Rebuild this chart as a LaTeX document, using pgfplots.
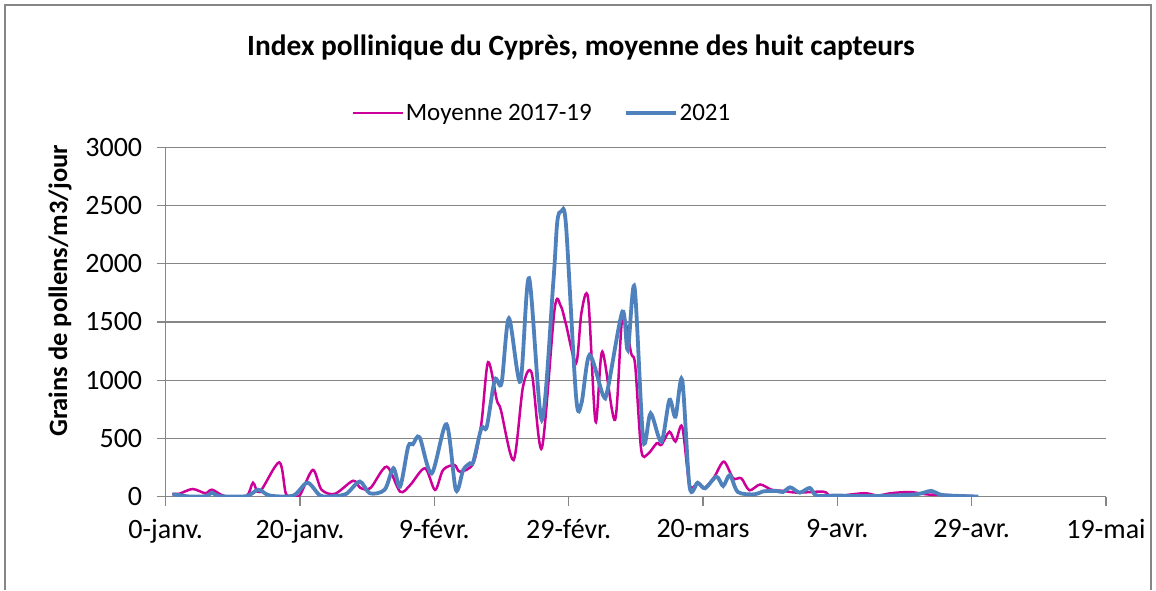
\documentclass[border=0pt]{standalone}
\usepackage{fontspec}
\setmainfont{Carlito}
\usepackage{pgfplots}
\pgfplotsset{compat=1.18}

\definecolor{gridgray}{RGB}{134,134,134}
\definecolor{moy}{RGB}{204,0,153}
\definecolor{y21}{RGB}{79,129,189}

\begin{document}
\begin{tikzpicture}[x=1pt,y=1pt]
\path (0,0) rectangle (1156,590);
% cadre du graphique
\draw[gridgray, line width=1.3pt] (5,0) -- (5,585) -- (1151,585) -- (1151,0);
\node[font=\bfseries\fontsize{29.4}{35}\selectfont] at (581,542)
  {Index pollinique du Cyprès, moyenne des huit capteurs};
\node[rotate=90, font=\bfseries\fontsize{26.5}{32}\selectfont] at (60,299)
  {Grains de pollens/m3/jour};
\begin{axis}[
  at={(165.7pt,93.3pt)}, anchor=south west,
  scale only axis, width=940.3pt, height=349.4pt,
  xmin=0, xmax=140, ymin=0, ymax=3000,
  axis x line*=bottom, axis y line*=left,
  axis line style={gridgray, line width=1.3pt},
  tick align=outside, major tick length=9pt,
  tick style={gridgray, line width=1.3pt},
  xtick={0,20,...,140},
  xticklabels={0-janv.,20-janv.,9-févr.,29-févr.,20-mars,9-avr.,29-avr.,19-mai},
  ytick={0,500,...,3000},
  ymajorgrids, grid style={gridgray, line width=1.3pt},
  /pgf/number format/1000 sep={},
  /pgf/number format/assume math mode=true,
  ticklabel style={font=\fontsize{28}{33}\selectfont},
  xticklabel style={yshift=-10pt},
  yticklabel style={xshift=-11pt},
  legend style={at={(rel axis cs:0.40,1.098)}, anchor=center, draw=none,
    fill=none, legend columns=2, font=\fontsize{25}{30}\selectfont,
    /tikz/every even column/.append style={column sep=30pt}},
  legend image code/.code={\draw[#1] (0pt,0pt) -- (50pt,0pt);},
]
\addplot[moy, line width=2.5pt, smooth] coordinates {
(1,25) (2,25) (4,66) (5.9,30) (6.9,60) (8.8,5) (12,5) (13,120) (14,40)
(16.9,295) (17.9,25) (19,10) (20,15) (21.9,230) (23.2,60) (25.2,25)
(27.9,137) (29,75) (30.5,75) (32.9,258) (34.9,43) (36.4,100) (38.6,244)
(40.1,58) (41.3,230) (43,272) (43.8,215) (45.8,287) (47,630) (48,1155)
(49.3,830) (49.9,745) (51.8,315) (53.2,945) (54.5,1060) (56,416)
(57.9,1610) (58.8,1640) (59.6,1480) (61.1,1146) (61.9,1580) (62.9,1700)
(64,644) (65,1246) (66.9,659) (68,1546) (69.3,1232) (69.9,1130)
(70.8,401) (71.8,367) (73.1,459) (73.8,445) (75,558) (75.9,473)
(76.9,601) (78,100) (79.2,115) (80.3,80) (81.7,172) (83.1,301)
(84.5,158) (85.7,158) (86.9,55) (88.5,105) (90.2,60) (91.9,50) (94,35)
(97.9,43) (98.8,10) (100,5) (104,30) (106,10) (108,30) (110.8,40)
(113.3,20) (115.2,15) (118.3,10) (120.7,3)
};
\addlegendentry{Moyenne 2017-19}
\addplot[y21, line width=3.8pt, smooth] coordinates {
(1,20) (2,15) (3.5,2) (6,5) (6.9,35) (8,5) (12,5) (13.8,60) (15.5,10)
(19,10) (21.1,120) (23,10) (25,5) (26.9,25) (28.9,130) (30.4,29)
(32.6,60) (33.9,244) (34.9,86) (36.1,430) (36.8,450) (37.8,510)
(39.6,200) (41.8,622) (43.2,58) (44.3,230) (45.3,287) (45.8,300)
(47,587) (47.8,600) (49,1003) (50,974) (51.1,1532) (52.8,988)
(54.1,1876) (56,659) (57.7,1833) (58.3,2360) (58.9,2450) (59.6,2330)
(61.1,859) (61.9,802) (63.1,1217) (65.1,874) (65.8,920) (68,1590)
(68.8,1260) (69.8,1800) (71.1,487) (72.2,716) (73.8,473) (75,831)
(75.9,687) (76.9,1003) (78,86) (79.2,120) (80.3,72) (82,172) (83,92)
(84,186) (85.2,40) (87.7,20) (88.9,45) (90.9,50) (91.9,40) (93,80)
(94.4,35) (95.9,75) (96.9,10) (100,10) (105,5) (111.6,20) (114,50)
(115.6,15) (120,3) (121,2)
};
\addlegendentry{2021}
\end{axis}
\end{tikzpicture}
\end{document}
